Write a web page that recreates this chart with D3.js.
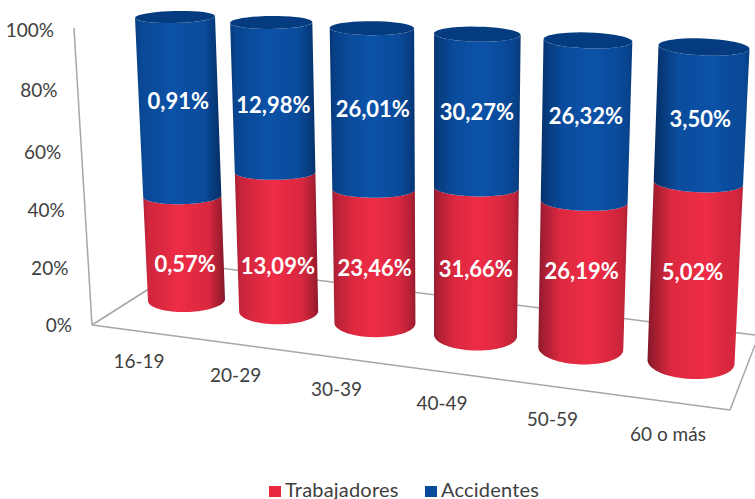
<!DOCTYPE html>
<html><head><meta charset="utf-8">
<script src="https://cdn.jsdelivr.net/npm/d3@7"></script>
<style>html,body{margin:0;padding:0;background:#fff;overflow:hidden}svg{display:block}text{font-family:Lato,"Open Sans",sans-serif}</style>
</head><body><div id="c"></div>
<script>
const categories = ["16-19","20-29","30-39","40-49","50-59","60 o más"];
const trabajadores = [0.57,13.09,23.46,31.66,26.19,5.02];
const accidentes = [0.91,12.98,26.01,30.27,26.32,3.50];
const trabajadoresLabels = ["0,57%","13,09%","23,46%","31,66%","26,19%","5,02%"];
const accidentesLabels = ["0,91%","12,98%","26,01%","30,27%","26,32%","3,50%"];
const valueTicks = [0,0.2,0.4,0.6,0.8,1];
const legendNames = ["Trabajadores","Accidentes"];

const W=755,H=499;
const svg=d3.select("#c").append("svg").attr("width",W).attr("height",H);
const defs=svg.append("defs");

// perspective map: unit square (u along categories, v along share) onto the picture
function homography(p00,p10,p11,p01){
  const [x0,y0]=p00,[x1,y1]=p10,[x2,y2]=p11,[x3,y3]=p01;
  const dx1=x1-x2,dx2=x3-x2,sx=x0-x1+x2-x3,dy1=y1-y2,dy2=y3-y2,sy=y0-y1+y2-y3;
  const den=dx1*dy2-dx2*dy1;
  const g=(sx*dy2-dx2*sy)/den,h=(dx1*sy-sx*dy1)/den;
  const a=x1-x0+g*x1,b=x3-x0+h*x3,d=y1-y0+g*y1,e=y3-y0+h*y3;
  return (u,v)=>{const w=g*u+h*v+1;return [(a*u+b*v+x0)/w,(d*u+e*v+y0)/w];};
}
const project=homography([186.5,300],[691,362],[704,47],[175,17]);
const uScale=d3.scalePoint().domain(categories).range([0,1]);
const vScale=d3.scaleLinear().domain([0,0.5,1]).range([0,0.49,1]);
const radiusB=d3.scaleLinear().domain([0,1]).range([38.5,43.5]);
const radiusT=d3.scaleLinear().domain([0,1]).range([40,45.5]);
const ryBase=d3.scaleLinear().domain([0,1]).range([12,17]);
const ryShape=d3.scaleLinear().domain([0,0.5,1]).range([1,0.56,0.5]);
const tilt=d3.scaleLinear().domain([0,1]).range([-0.9,1.9]);
const labelX=d3.scaleLinear().domain([186.5,691]).range([139,668]);
const labelY=d3.scaleLinear().domain([300,362]).range([362,435]);
const blueLabelY=d3.scaleLinear().domain([0,1]).range([102,120]);
const redLabelY=d3.scaleLinear().domain([0,1]).range([265,273]);

function rim(u,v,t){
  const [cx,cy]=project(u,v);
  const r=radiusB(u)+(radiusT(u)-radiusB(u))*v;
  const ry=ryBase(u)*ryShape(v);
  return [cx+r*Math.cos(t),cy+ry*Math.sin(t)+tilt(u)*Math.cos(t)];
}
const line=d3.line();
const arcPts=(u,v,a0,a1)=>d3.range(0,41).map(k=>rim(u,v,a0+(a1-a0)*k/40));
function sidePath(u,v0,v1){
  return line([...arcPts(u,v0,Math.PI,0),...arcPts(u,v1,0,Math.PI)])+"Z";
}

// frame
const frame=svg.append("g").attr("fill","none").attr("stroke","#a6a6a6").attr("stroke-width",1.5);
[[[74,28],[92,325]],[[92,325],[188,264]],[[188,264],[755,335]],[[92,325],[730,410]],[[730,410],[755,345]]]
 .forEach(s=>frame.append("path").attr("d",line(s)));

// value axis
const yAxisScale=d3.scaleLinear().domain(valueTicks).range([325,268,210,152,90,30]);
const xAxisScale=d3.scaleLinear().domain([0,1]).range([72,54]);
const ax=svg.append("g")
  .call(d3.axisLeft(yAxisScale).tickValues(valueTicks).tickFormat(d3.format(".0%")).tickSize(0));
ax.select(".domain").remove();
ax.selectAll(".tick text").attr("x",d=>xAxisScale(d)).attr("dy","0.34em")
  .attr("font-size",19).attr("fill","#404040").attr("text-anchor","end").style("font-family","Lato");

// category labels
categories.forEach(c=>{
  const [bx,by]=project(uScale(c),0);
  svg.append("text").attr("x",labelX(bx)).attr("y",labelY(by)).attr("dy","0.34em")
    .attr("text-anchor","middle").attr("font-size",19).attr("fill","#404040").text(c);
});

function gradient(id,dark,bright,u){
  const g=defs.append("linearGradient").attr("id",id).attr("x1",0).attr("x2",1).attr("y1",0).attr("y2",0);
  const mid=d3.interpolateRgb(dark,bright);
  const leftEdge=0.5-0.42*u, rightEdge=0.08+0.45*u, peak=0.42+0.2*u;
  [[0,mid(leftEdge)],[0.07,mid(leftEdge+0.25)],[0.25,mid(0.85)],[peak,bright],[0.8,mid(0.82)],[0.94,mid(rightEdge+0.25)],[1,mid(rightEdge)]]
    .forEach(([o,c])=>g.append("stop").attr("offset",o).attr("stop-color",c));
  return `url(#${id})`;
}

// bars
categories.forEach((c,i)=>{
  const u=uScale(c);
  const share=vScale(trabajadores[i]/(trabajadores[i]+accidentes[i]));
  const g=svg.append("g");
  g.append("path").attr("d",sidePath(u,0,share)).attr("fill",gradient("r"+i,"#7a1526","#ee2c45",u));
  g.append("path").attr("d",sidePath(u,share,1)).attr("fill",gradient("b"+i,"#042a5e","#0b52a8",u));
  g.append("path").attr("d",line(arcPts(u,1,0,2*Math.PI))+"Z").attr("fill","#053c80");
});

// data labels
function drawLabels(texts,vAt,yScale){
  categories.forEach((c,i)=>{
    const u=uScale(c);
    svg.append("text").attr("x",project(u,vAt)[0]).attr("y",yScale(u)).attr("dy","0.34em")
      .attr("text-anchor","middle").attr("font-size",22).attr("font-weight",700).attr("fill","#fff").text(texts[i]);
  });
}
drawLabels(accidentesLabels,0.72,blueLabelY);
drawLabels(trabajadoresLabels,0.12,redLabelY);

// legend
const legendX=d3.scalePoint().domain(legendNames).range([269,425]);
const legendColor=d3.scaleOrdinal().domain(legendNames).range(["#e8283f","#0a4a9b"]);
legendNames.forEach(n=>{
  svg.append("rect").attr("x",legendX(n)).attr("y",486).attr("width",12).attr("height",11).attr("fill",legendColor(n));
  svg.append("text").attr("x",legendX(n)+16).attr("y",497).attr("font-size",20).attr("letter-spacing",0.2).attr("fill","#404040").text(n);
});
</script></body></html>
